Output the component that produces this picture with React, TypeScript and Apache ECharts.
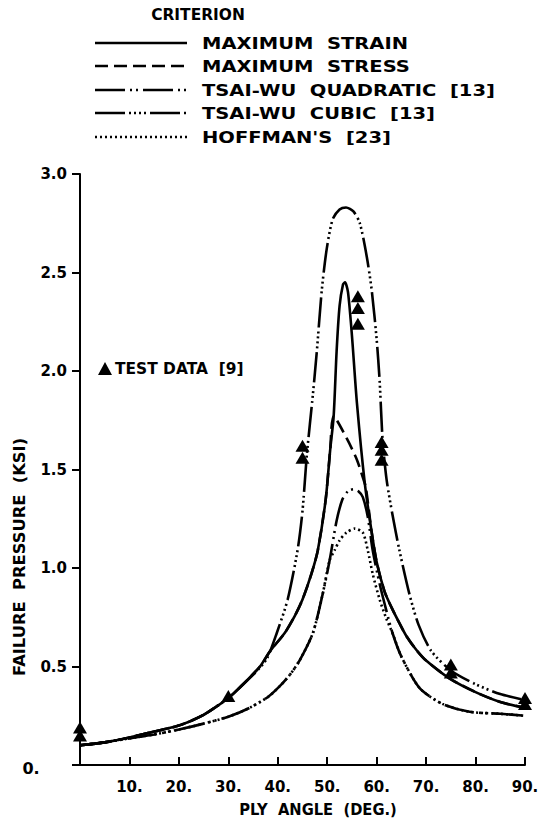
import React, { useEffect, useRef } from "react";
import * as echarts from "echarts";

const FONT = "DejaVu Sans";

// ----- data (ply angle in degrees, failure pressure in ksi) -----
const xTickValues = [0, 10, 20, 30, 40, 50, 60, 70, 80, 90];
const yTickValues = [0, 0.5, 1.0, 1.5, 2.0, 2.5, 3.0];

const maxStrain: number[][] = [
  [0, 0.10], [5, 0.115], [10, 0.14], [15, 0.17], [20, 0.2], [25, 0.255], [30, 0.34],
  [33, 0.41], [36.4, 0.5], [38.5, 0.58], [41.4, 0.67], [43.5, 0.76], [45, 0.84],
  [46.8, 0.97], [48.1, 1.09], [49.7, 1.35], [50.6, 1.6], [51.3, 1.77], [51.9, 2.1],
  [52.5, 2.33], [53.2, 2.44], [53.6, 2.45], [54.2, 2.4], [55.0, 2.18], [56, 1.84],
  [57.6, 1.43], [59, 1.18], [60, 1.03], [61.6, 0.88], [63, 0.8], [64.6, 0.72], [66, 0.655],
  [68, 0.585], [70, 0.53], [74.7, 0.44], [80, 0.37], [85, 0.32], [90, 0.29],
];

const maxStress: number[][] = [
  [0, 0.10], [5, 0.115], [10, 0.14], [15, 0.17], [20, 0.2], [25, 0.255], [30, 0.34],
  [33, 0.41], [36.4, 0.5], [38.5, 0.58], [41.4, 0.67], [43.5, 0.76], [45, 0.84],
  [46.8, 0.97], [48.1, 1.09], [49.7, 1.35], [50.6, 1.6], [51.3, 1.77], [53.9, 1.66],
  [56, 1.55], [57.2, 1.46], [57.8, 1.41], [59, 1.18], [60, 1.03], [61.6, 0.88],
  [63, 0.8], [64.6, 0.72], [66, 0.655], [68, 0.585], [70, 0.53], [74.7, 0.44], [80, 0.37],
  [85, 0.32], [90, 0.29],
];

const tsaiWuQuadratic: number[][] = [
  [0, 0.10], [5, 0.115], [10, 0.135], [15, 0.155], [20, 0.18], [25, 0.21], [30, 0.245],
  [34.3, 0.29], [38, 0.345], [40.4, 0.4], [42.5, 0.46], [44.4, 0.53], [47.1, 0.67],
  [49.1, 0.87], [50.5, 1.04], [51.9, 1.24], [53.1, 1.35], [54.2, 1.39], [55.3, 1.4],
  [56.3, 1.39], [57.2, 1.36], [58.2, 1.26], [59.2, 1.09], [60.6, 0.92], [62, 0.78],
  [63.2, 0.67], [65, 0.55], [68.7, 0.39], [73.3, 0.31], [78.8, 0.27], [85, 0.26], [90, 0.25],
];

const tsaiWuCubic: number[][] = [
  [0, 0.10], [5, 0.115], [10, 0.14], [15, 0.17], [20, 0.2], [25, 0.255], [30, 0.34],
  [33, 0.41], [35.5, 0.47], [37.8, 0.54], [39.8, 0.67], [42, 0.84], [44, 1.09], [45, 1.29],
  [45.9, 1.58], [47.1, 1.88], [47.9, 2.1], [48.9, 2.41], [49.9, 2.62], [51.1, 2.77],
  [52.5, 2.82], [53.8, 2.83], [55.3, 2.81], [56.6, 2.75], [58, 2.58], [59, 2.41],
  [60, 2.16], [60.6, 1.95], [61.2, 1.65], [62, 1.45], [63.2, 1.27], [64.6, 1.09],
  [66.7, 0.86], [68.5, 0.71], [71, 0.58], [75, 0.48], [80, 0.41], [85, 0.36], [90, 0.33],
];

const hoffman: number[][] = [
  [0, 0.10], [5, 0.115], [10, 0.135], [15, 0.155], [20, 0.18], [25, 0.21], [30, 0.245],
  [34.3, 0.29], [38, 0.345], [40.4, 0.4], [42.5, 0.46], [44.4, 0.53], [47.1, 0.67],
  [49.1, 0.87], [50.5, 1.04], [51.5, 1.09], [52.5, 1.14], [53.9, 1.18], [55.6, 1.2],
  [57.2, 1.18], [58.2, 1.09], [59.2, 0.97], [60.6, 0.84], [62, 0.74], [63.2, 0.67],
  [65, 0.55], [68.7, 0.39], [73.3, 0.31], [78.8, 0.27], [85, 0.26], [90, 0.25],
];

const testData: number[][] = [
  [0, 0.15], [0, 0.19], [30, 0.35], [45, 1.56], [45, 1.62],
  [56.2, 2.24], [56.2, 2.32], [56.2, 2.38], [61, 1.55], [61, 1.6], [61, 1.64],
  [75, 0.47], [75, 0.51], [90, 0.31], [90, 0.34],
];

const legendTitle = "CRITERION";
const legendNames = [
  "MAXIMUM  STRAIN",
  "MAXIMUM  STRESS",
  "TSAI-WU  QUADRATIC  [13]",
  "TSAI-WU  CUBIC  [13]",
  "HOFFMAN'S  [23]",
];
const testLabel = "TEST DATA  [9]";
const xTitle = "PLY  ANGLE  (DEG.)";
const yTitle = "FAILURE  PRESSURE  (KSI)";
const originLabel = "0.";

// ----- styles -----
const dashStress = [13, 6];
const dashQuad = [30, 5, 2, 4, 2, 5];
const dashCubic = [30, 4, 2, 3, 2, 3, 2, 3, 2, 4];
const dashHoff = [2, 3];
const seriesDashes: any[] = ["solid", dashStress, dashQuad, dashCubic, dashHoff];
const seriesData = [maxStrain, maxStress, tsaiWuQuadratic, tsaiWuCubic, hoffman];

function txt(text: string, x: number, y: number, size: number, sx: number, align: string, extra: any = {}) {
  return {
    type: "text",
    x,
    y,
    scaleX: sx,
    ...extra,
    style: {
      text,
      fontFamily: FONT,
      fontSize: size,
      fontWeight: "bold",
      fill: "#000",
      textAlign: align,
      textVerticalAlign: "middle",
    },
  };
}

function buildOption() {
  const lineSeries = seriesData.map((d, i) => ({
    type: "line",
    name: legendNames[i],
    data: d,
    smooth: 0.25,
    showSymbol: false,
    symbol: "none",
    lineStyle: { color: "#000", width: 2.6, type: seriesDashes[i] },
    z: i === 0 ? 3 : 2,
  }));

  const rowY = [43, 66, 90, 113, 137];
  const legendGraphics: any[] = [txt(legendTitle, 198, 15, 15, 1.03, "center")];
  legendNames.forEach((n, i) => {
    legendGraphics.push({
      type: "line",
      shape: { x1: 95, y1: rowY[i], x2: 187, y2: rowY[i] },
      style: {
        stroke: "#000",
        lineWidth: 2.5,
        lineDash: seriesDashes[i] === "solid" ? null : seriesDashes[i],
      },
    });
    legendGraphics.push(txt(n, 202, rowY[i], 16, 1.22, "left"));
  });

  const extraGraphics: any[] = [
    {
      type: "polygon",
      shape: { points: [[98, 375], [112, 375], [105, 362]] },
      style: { fill: "#000" },
    },
    txt(testLabel, 115, 369, 15, 1.03, "left"),
    txt(xTitle, 318, 810, 16, 0.92, "center"),
    txt(yTitle, 20, 557, 16, 1.02, "center", { rotation: Math.PI / 2 }),
    txt(originLabel, 31, 768, 16, 1, "center"),
  ];

  return {
    animation: false,
    backgroundColor: "#fff",
    grid: { left: 80, right: 18, top: 174, bottom: 59, containLabel: false },
    xAxis: {
      type: "value",
      min: xTickValues[0],
      max: xTickValues[xTickValues.length - 1],
      interval: 10,
      axisLine: { show: true, onZero: false, lineStyle: { color: "#000", width: 2 } },
      axisTick: { show: true, inside: true, length: 8, lineStyle: { color: "#000", width: 2 } },
      axisLabel: {
        margin: 14,
        color: "#000",
        fontFamily: FONT,
        fontWeight: "bold",
        fontSize: 15,
        formatter: (v: number) => (v === 0 ? "" : `${v}.`),
      },
      splitLine: { show: false },
    },
    yAxis: {
      type: "value",
      min: yTickValues[0],
      max: yTickValues[yTickValues.length - 1],
      interval: 0.5,
      axisLine: { show: true, onZero: false, lineStyle: { color: "#000", width: 2 } },
      axisTick: { show: true, inside: false, length: 8, lineStyle: { color: "#000", width: 2 } },
      axisLabel: {
        margin: 13,
        color: "#000",
        fontFamily: FONT,
        fontWeight: "bold",
        fontSize: 15,
        formatter: (v: number) => (v === 0 ? "" : v.toFixed(1)),
      },
      splitLine: { show: false },
    },
    graphic: [...legendGraphics, ...extraGraphics],
    series: [
      ...lineSeries,
      {
        type: "scatter",
        name: testLabel,
        data: testData,
        symbol: "triangle",
        symbolSize: [14, 12],
        itemStyle: { color: "#000", opacity: 1 },
        z: 5,
      },
    ],
  };
}

export default function App() {
  const ref = useRef<HTMLDivElement>(null);
  useEffect(() => {
    if (!ref.current) return;
    const chart = echarts.init(ref.current, null, { renderer: "svg" });
    chart.setOption(buildOption() as any);
    return () => chart.dispose();
  }, []);
  return (
    <div
      ref={ref}
      style={{ position: "fixed", left: 0, top: 0, width: 543, height: 824, background: "#fff" }}
    />
  );
}
